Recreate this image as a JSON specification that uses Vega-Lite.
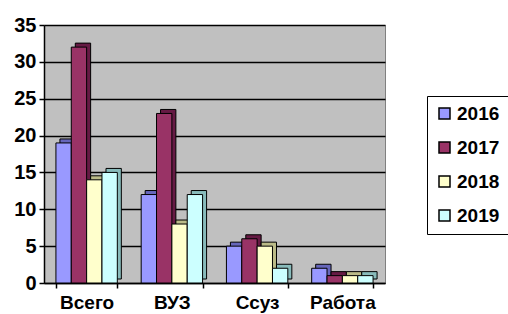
{
  "$schema": "https://vega.github.io/schema/vega-lite/v6.json",
  "width": 341,
  "height": 258,
  "autosize": {"type": "none"},
  "padding": {"left": 44, "top": 25, "right": 123, "bottom": 31},
  "background": "white",
  "config": {
    "font": "Liberation Sans",
    "view": {"fill": "#C0C0C0", "stroke": "#808080", "strokeWidth": 1}
  },
  "data": {
    "values": [
      {"cat": "Всего", "year": "2016", "value": 19},
      {"cat": "Всего", "year": "2017", "value": 32},
      {"cat": "Всего", "year": "2018", "value": 14},
      {"cat": "Всего", "year": "2019", "value": 15},
      {"cat": "ВУЗ", "year": "2016", "value": 12},
      {"cat": "ВУЗ", "year": "2017", "value": 23},
      {"cat": "ВУЗ", "year": "2018", "value": 8},
      {"cat": "ВУЗ", "year": "2019", "value": 12},
      {"cat": "Ссуз", "year": "2016", "value": 5},
      {"cat": "Ссуз", "year": "2017", "value": 6},
      {"cat": "Ссуз", "year": "2018", "value": 5},
      {"cat": "Ссуз", "year": "2019", "value": 2},
      {"cat": "Работа", "year": "2016", "value": 2},
      {"cat": "Работа", "year": "2017", "value": 1},
      {"cat": "Работа", "year": "2018", "value": 1},
      {"cat": "Работа", "year": "2019", "value": 1}
    ]
  },
  "encoding": {
    "x": {
      "field": "cat", "type": "nominal", "sort": null,
      "scale": {"paddingInner": 0.28, "paddingOuter": 0.14},
      "axis": {
        "title": null, "labelAngle": 0, "labelFontSize": 19, "labelFontWeight": "bold",
        "labelColor": "black", "domainColor": "black", "domainWidth": 1.5,
        "tickColor": "black", "tickWidth": 1.5, "tickSize": 5, "tickBand": "extent",
        "labelPadding": 5
      }
    },
    "y": {
      "field": "value", "type": "quantitative",
      "scale": {"domain": [0, 35], "nice": false},
      "axis": {
        "title": null, "values": [0, 5, 10, 15, 20, 25, 30, 35],
        "labelFontSize": 20, "labelFontWeight": "bold", "labelColor": "black",
        "domainColor": "black", "domainWidth": 1.5, "tickColor": "black",
        "tickWidth": 1.5, "tickSize": 5, "gridColor": "black", "gridWidth": 1.5,
        "labelPadding": 3
      }
    }
  },
  "layer": [
    {
      "mark": {"type": "bar", "yOffset": -4, "stroke": "black", "strokeWidth": 1},
      "encoding": {
        "xOffset": {"field": "year", "type": "nominal", "scale": {"paddingInner": 0, "range": [4, 65.4]}},
        "color": {
          "field": "year", "type": "nominal",
          "scale": {"domain": ["2016", "2017", "2018", "2019"], "range": ["#6666BB", "#661A44", "#BBBB88", "#88BBBB"]},
          "legend": null
        }
      }
    },
    {
      "mark": {"type": "bar", "stroke": "black", "strokeWidth": 1},
      "encoding": {
        "xOffset": {"field": "year", "type": "nominal", "scale": {"paddingInner": 0}},
        "fill": {
          "field": "year", "type": "nominal",
          "scale": {"domain": ["2016", "2017", "2018", "2019"], "range": ["#9999FF", "#993366", "#FFFFCC", "#CCFFFF"]},
          "legend": {
            "title": null, "orient": "none", "legendX": 383, "legendY": 71,
            "symbolType": "square", "symbolSize": 121, "symbolStrokeColor": "black",
            "symbolStrokeWidth": 1.5, "labelFontSize": 19, "labelFontWeight": "bold",
            "labelColor": "black", "rowPadding": 14, "strokeColor": "black",
            "fillColor": "white", "padding": 8, "labelOffset": 3
          }
        }
      }
    }
  ],
  "resolve": {
    "scale": {"xOffset": "independent", "color": "independent", "fill": "independent"},
    "legend": {"color": "independent", "fill": "independent"}
  }
}
